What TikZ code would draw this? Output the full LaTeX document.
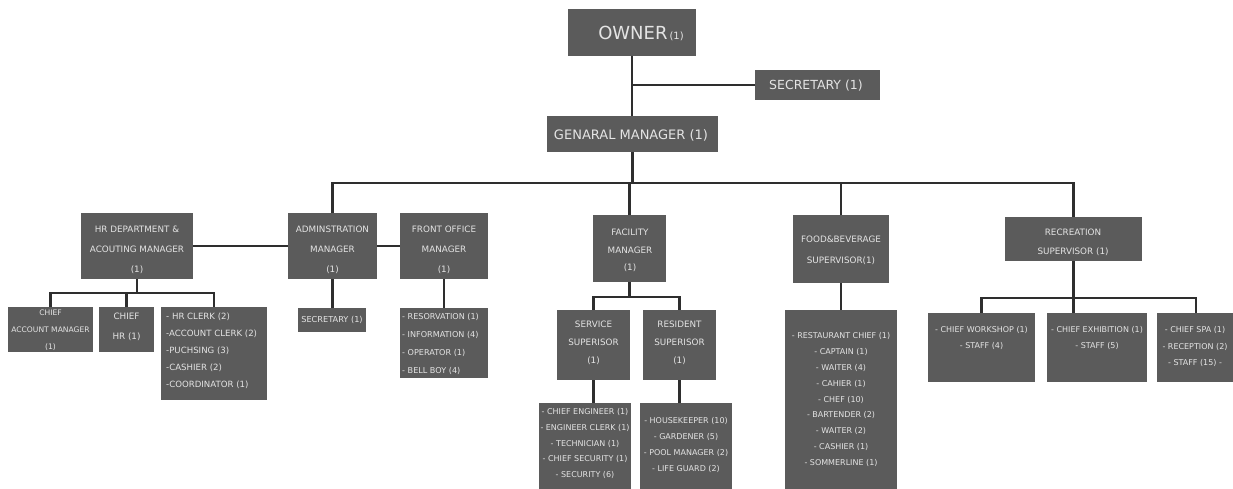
\documentclass[tikz,border=0pt]{standalone}
\usepackage{fontspec}
\setmainfont{DejaVu Sans}
\definecolor{boxc}{HTML}{5B5B5B}
\definecolor{txtc}{HTML}{E4E4E4}
\definecolor{linec}{HTML}{2E2E2E}
\newcommand\orgbox[5]{\node[bx, minimum width={(#4)-(#2)}, minimum height={(#5)-(#3)}] (#1) at ({((#2)+(#4))/2},{((#3)+(#5))/2}) {};}
\newcommand\setfs[2]{\fontsize{#1}{#2}\selectfont}
\begin{document}
\begin{tikzpicture}[x=1pt,y=-1pt,
  bx/.style={draw=none, fill=boxc, inner sep=0pt, outer sep=0pt},
  tx/.style={text=txtc, inner sep=0pt, align=center},
  txl/.style={text=txtc, inner sep=0pt, align=left, anchor=west},
  ln/.style={draw=linec, line width=2.4pt}]
\useasboundingbox (0,0) rectangle (1233,488);
% boxes
\orgbox{owner}{568}{9}{696}{56}
\orgbox{sec}{755}{70}{880}{100}
\orgbox{gm}{547}{116}{718}{152}
\orgbox{hr}{81}{213}{193}{279}
\orgbox{adm}{288}{213}{377}{279}
\orgbox{fo}{400}{213}{488}{279}
\orgbox{fac}{593}{215}{666}{282}
\orgbox{fb}{793}{215}{889}{283}
\orgbox{rec}{1005}{217}{1142}{261}
\orgbox{cam}{8}{307}{93}{352}
\orgbox{chr}{99}{307}{154}{352}
\orgbox{hrl}{161}{307}{267}{400}
\orgbox{asec}{298}{308}{366}{332}
\orgbox{fol}{400}{308}{488}{378}
\orgbox{ss}{557}{310}{630}{380}
\orgbox{rs}{643}{310}{716}{380}
\orgbox{ssl}{539}{403}{631}{495}
\orgbox{rsl}{640}{403}{732}{495}
\orgbox{fbl}{785}{310}{897}{495}
\orgbox{cw}{928}{313}{1035}{382}
\orgbox{ce}{1047}{313}{1147}{382}
\orgbox{csp}{1157}{313}{1235}{382}
% connectors
\coordinate (bus) at (0,183);
\coordinate (hrbus) at (0,293);
\coordinate (facbus) at (0,297);
\coordinate (recbus) at (0,298);
\draw[ln] (owner.south) -- (owner.south |- gm.north);
\draw[ln] (sec.west) -- (sec.west -| owner.south);
\draw[ln] (gm.south) -- (gm.south |- bus);
\draw[ln] (adm.north) -- (adm.north |- bus) -| (rec.north);
\draw[ln] (fac.north) -- (fac.north |- bus);
\draw[ln] (fb.north) -- (fb.north |- bus);
\draw[ln] (hr.east) -- (adm.west);
\draw[ln] (adm.east) -- (fo.west);
\draw[ln] (hr.south) -- (hr.south |- hrbus);
\draw[ln] (cam.north) -- (cam.north |- hrbus) -| (hrl.north);
\draw[ln] (chr.north) -- (chr.north |- hrbus);
\draw[ln] (adm.south) -- (adm.south |- asec.north);
\draw[ln] (fo.south) -- (fo.south |- fol.north);
\draw[ln] (fac.south) -- (fac.south |- facbus);
\draw[ln] (ss.north) -- (ss.north |- facbus) -| (rs.north);
\draw[ln] (ss.south) -- (ss.south |- ssl.north);
\draw[ln] (rs.south) -- (rs.south |- rsl.north);
\draw[ln] (fb.south) -- (fb.south |- fbl.north);
\draw[ln] (rec.south) -- (rec.south |- ce.north);
\draw[ln] (cw.north) -- (cw.north |- recbus) -| (csp.north);
% texts
\node[tx, font=\setfs{18}{20}] (t-owner) at (641,33) {OWNER\hspace{2pt}{\setfs{10}{12}(1)}};
\node[tx, font=\setfs{12.5}{15}] (t-sec) at (816,86) {SECRETARY (1)};
\node[tx, font=\setfs{13}{15}] (t-gm) at (631,135) {GENARAL MANAGER (1)};
\node[tx, font=\setfs{8.8}{20}] (t-hr) at (137,250) {HR DEPARTMENT \&\\ACOUTING MANAGER\\(1)};
\node[tx, font=\setfs{8.8}{20}] (t-adm) at (332.5,250) {ADMINSTRATION\\MANAGER\\(1)};
\node[tx, font=\setfs{8.8}{20}] (t-fo) at (444,250) {FRONT OFFICE\\MANAGER\\(1)};
\node[tx, font=\setfs{8.8}{17.5}] (t-fac) at (630,250.5) {FACILITY\\MANAGER\\(1)};
\node[tx, font=\setfs{8.8}{21}] (t-fb) at (841,250.5) {FOOD\&BEVERAGE\\SUPERVISOR(1)};
\node[tx, font=\setfs{8.8}{19}] (t-rec) at (1073,242.5) {RECREATION\\SUPERVISOR (1)};
\node[tx, font=\setfs{7.6}{17}] (t-cam) at (50.5,330) {CHIEF\\ACCOUNT MANAGER\\(1)};
\node[tx, font=\setfs{8.8}{20}] (t-chr) at (126.5,327) {CHIEF\\HR (1)};
\node[txl, font=\setfs{8.6}{17}] (t-hrl) at (166,351) {- HR CLERK (2)\\-ACCOUNT CLERK (2)\\-PUCHSING (3)\\-CASHIER (2)\\-COORDINATOR (1)};
\node[tx, font=\setfs{8.2}{10}] (t-asec) at (332,320) {SECRETARY (1)};
\node[txl, font=\setfs{8.1}{18}] (t-fol) at (402,344) {- RESORVATION (1)\\- INFORMATION (4)\\- OPERATOR (1)\\- BELL BOY (4)};
\node[tx, font=\setfs{8.8}{18}] (t-ss) at (593.5,343) {SERVICE\\SUPERISOR\\(1)};
\node[tx, font=\setfs{8.8}{18}] (t-rs) at (679.5,343) {RESIDENT\\SUPERISOR\\(1)};
\node[tx, font=\setfs{8}{15.75}] (t-ssl) at (585,443.5) {- CHIEF ENGINEER (1)\\- ENGINEER CLERK (1)\\- TECHNICIAN (1)\\- CHIEF SECURITY (1)\\- SECURITY (6)};
\node[tx, font=\setfs{8}{16}] (t-rsl) at (686,445) {- HOUSEKEEPER (10)\\- GARDENER (5)\\- POOL MANAGER (2)\\- LIFE GUARD (2)};
\node[tx, font=\setfs{8}{15.9}] (t-fbl) at (841,399.5) {- RESTAURANT CHIEF (1)\\- CAPTAIN (1)\\- WAITER (4)\\- CAHIER (1)\\- CHEF (10)\\- BARTENDER (2)\\- WAITER (2)\\- CASHIER (1)\\- SOMMERLINE (1)};
\node[tx, font=\setfs{8}{16}] (t-cw) at (981.5,338) {- CHIEF WORKSHOP (1)\\- STAFF (4)};
\node[tx, font=\setfs{8}{16}] (t-ce) at (1097,338) {- CHIEF EXHIBITION (1)\\- STAFF (5)};
\node[tx, font=\setfs{8}{16.5}] (t-csp) at (1195,346.5) {- CHIEF SPA (1)\\- RECEPTION (2)\\- STAFF (15) -};
\end{tikzpicture}
\end{document}
